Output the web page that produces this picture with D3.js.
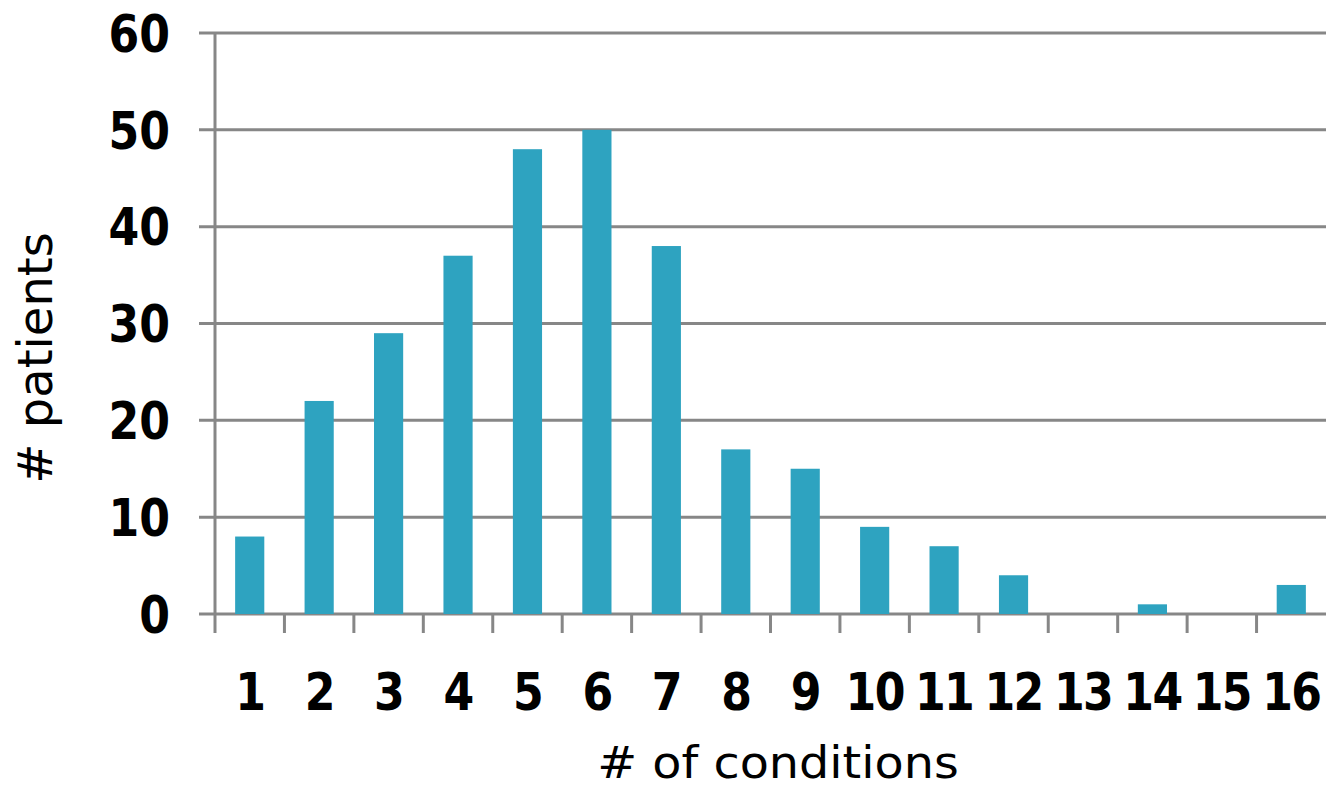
<!DOCTYPE html>
<html>
<head>
<meta charset="utf-8"/>
<script src="https://d3js.org/d3.v7.min.js"></script>
<style>
  body { margin:0; background:#fff; }
  text { font-family: "DejaVu Sans", Verdana, sans-serif; }
</style>
</head>
<body>
<script>
// data
var categories = ["1","2","3","4","5","6","7","8","9","10","11","12","13","14","15","16"];
var patients   = [8, 22, 29, 37, 48, 50, 38, 17, 15, 9, 7, 4, 0, 1, 0, 3];
var yTicks     = [0, 10, 20, 30, 40, 50, 60];

var W = 1326, H = 788;
var m = {left:215, right:0, top:33, bottom:174};

var svg = d3.select("body").append("svg")
    .attr("width", W)
    .attr("height", H);

var x = d3.scaleBand()
    .domain(categories)
    .range([m.left, W - m.right])
    .paddingInner(0.58)
    .paddingOuter(0.29);

var y = d3.scaleLinear()
    .domain([0, 60])
    .range([H - m.bottom, m.top]);

var grey = "#878787";

// horizontal grid lines (run from the outer tick to the right edge)
svg.append("g").selectAll("line")
  .data(yTicks)
  .enter().append("line")
    .attr("x1", m.left - 16)
    .attr("x2", W)
    .attr("y1", function(d){ return y(d); })
    .attr("y2", function(d){ return y(d); })
    .attr("stroke", grey)
    .attr("stroke-width", 3);

// y axis line
svg.append("line")
    .attr("x1", m.left).attr("x2", m.left)
    .attr("y1", y(60)).attr("y2", y(0) + 19)
    .attr("stroke", grey).attr("stroke-width", 3);

// x ticks at band boundaries
var step = x.step();
var bounds = categories.map(function(c, i){ return m.left + i * step; });
svg.append("g").selectAll("line")
  .data(bounds.slice(1))
  .enter().append("line")
    .attr("x1", function(d){ return d; })
    .attr("x2", function(d){ return d; })
    .attr("y1", y(0))
    .attr("y2", y(0) + 19)
    .attr("stroke", grey).attr("stroke-width", 3);

// bars
svg.append("g").selectAll("rect")
  .data(patients)
  .enter().append("rect")
    .attr("x", function(d, i){ return x(categories[i]); })
    .attr("width", x.bandwidth())
    .attr("y", function(d){ return y(d); })
    .attr("height", function(d){ return y(0) - y(d); })
    .attr("fill", "#2ea3c0");

// tick labels: the font in the picture is taller and narrower than DejaVu, so squeeze it
var sx = 0.85;

svg.append("g").selectAll("text")
  .data(yTicks)
  .enter().append("text")
    .attr("transform", function(d){ return "translate(170," + y(d) + ") scale(" + sx + ",1)"; })
    .attr("dy", "0.36em")
    .attr("text-anchor", "end")
    .attr("font-size", 52)
    .attr("font-weight", "bold")
    .text(function(d){ return d; });

svg.append("g").selectAll("text")
  .data(categories)
  .enter().append("text")
    .attr("transform", function(d){
      return "translate(" + (x(d) + x.bandwidth() / 2) + ",710) scale(" + sx + ",1)";
    })
    .attr("text-anchor", "middle")
    .attr("font-size", 52)
    .attr("font-weight", "bold")
    .attr("letter-spacing", -2)
    .text(function(d){ return d; });

// axis titles
svg.append("text")
    .attr("transform", "translate(778,778) scale(1.06,1)")
    .attr("text-anchor", "middle")
    .attr("font-size", 45)
    .text("# of conditions");

svg.append("text")
    .attr("transform", "translate(52,358) rotate(-90)")
    .attr("text-anchor", "middle")
    .attr("font-size", 48)
    .text("# patients");
</script>
</body>
</html>
